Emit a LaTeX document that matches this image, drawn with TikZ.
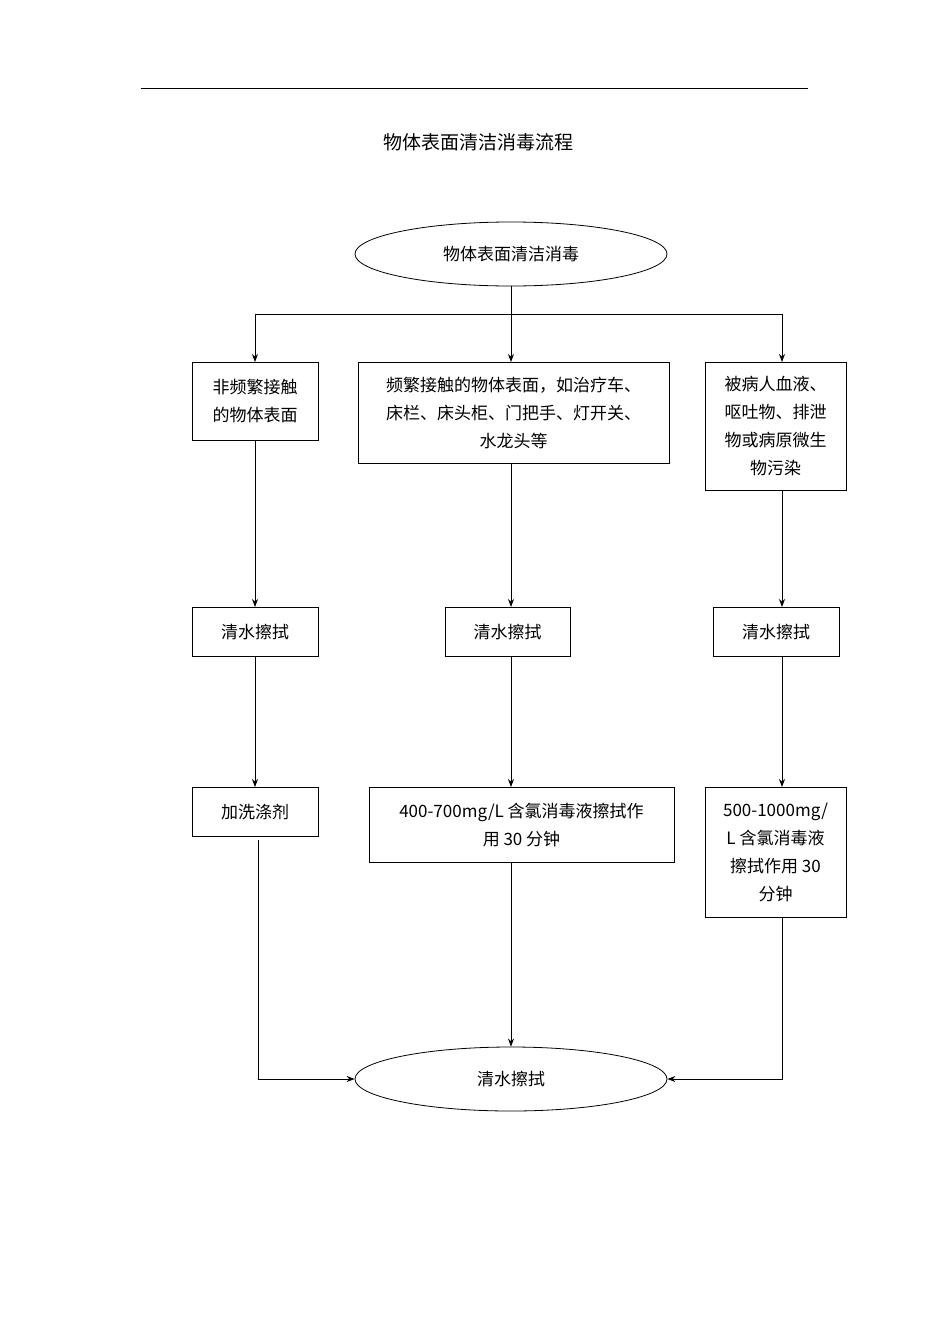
\documentclass[tikz,border=0pt]{standalone}
\usepackage{fontspec}
\setmainfont{Noto Sans CJK SC}
\usetikzlibrary{shapes.geometric,arrows.meta}
\begin{document}
\begin{tikzpicture}[x=1pt,y=-1pt,
  every node/.style={font=\fontsize{17}{28}\selectfont},
  bx/.style={draw,line width=0.8pt,inner sep=0pt,align=center},
  el/.style={draw,ellipse,line width=0.8pt,minimum width=312pt,minimum height=64pt},
  ar/.style={-{Stealth[length=8pt,width=6pt]},line width=0.8pt},
  ln/.style={line width=0.8pt}]
\useasboundingbox (0,0) rectangle (950,1344);
\draw[line width=0.8pt] (141,88) -- (808,88);
\node (title) at (478,142) {\fontsize{19}{22}\selectfont 物体表面清洁消毒流程};
\node[el] (top) at (511,254) {物体表面清洁消毒};
\node[bx,minimum width=126pt,minimum height=78pt,anchor=north] (a1) at (255,362) {\raisebox{6pt}{\parbox{120pt}{\centering 非频繁接触\\的物体表面}}};
\node[bx,minimum width=311pt,minimum height=101pt,anchor=north] (b1) at (513.5,362) {频繁接触的物体表面，如治疗车、\\床栏、床头柜、门把手、灯开关、\\水龙头等};
\node[bx,minimum width=141pt,minimum height=128pt,anchor=north] (c1) at (775.5,362) {被病人血液、\\呕吐物、排泄\\物或病原微生\\物污染};
\node[bx,minimum width=126pt,minimum height=49pt,anchor=north] (a2) at (255,607) {清水擦拭};
\node[bx,minimum width=125pt,minimum height=49pt,anchor=north] (b2) at (507.5,607) {清水擦拭};
\node[bx,minimum width=126pt,minimum height=49pt,anchor=north] (c2) at (776,607) {清水擦拭};
\node[bx,minimum width=126pt,minimum height=49pt,anchor=north] (a3) at (255,787) {加洗涤剂};
\node[bx,minimum width=305pt,minimum height=75pt,anchor=north] (b3) at (521.5,787) {400-700mg/L 含氯消毒液擦拭作\\用 30 分钟};
\node[bx,minimum width=141pt,minimum height=130pt,anchor=north] (c3) at (775.5,787) {500-1000mg/\\L 含氯消毒液\\擦拭作用 30\\分钟};
\node[el] (bot) at (511,1079) {清水擦拭};
\coordinate (sp) at (511,314);
\draw[ln] (top.south) -- (sp);
\draw[ln] (255,314) -- (782,314);
\draw[ar] (255,314) -- (255,362);
\draw[ar] (sp) -- (511,362);
\draw[ar] (782,314) -- (782,362);
\draw[ar] (255,440) -- (255,607);
\draw[ar] (511,463) -- (511,607);
\draw[ar] (782,490) -- (782,607);
\draw[ar] (255,656) -- (255,787);
\draw[ar] (511,656) -- (511,787);
\draw[ar] (782,656) -- (782,787);
\draw[ar] (511,862) -- (bot.north);
\draw[ar] (258,840) |- (bot.west);
\draw[ar] (782,917) |- (bot.east);
\end{tikzpicture}
\end{document}
